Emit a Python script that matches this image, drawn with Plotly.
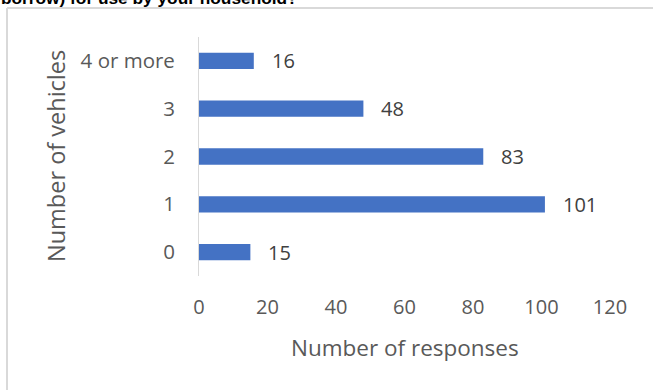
import plotly.graph_objects as go

# Household vehicle counts
categories = ["0", "1", "2", "3", "4 or more"]
responses = [15, 101, 83, 48, 16]
x_ticks = [0, 20, 40, 60, 80, 100, 120]

W, H = 654, 390
L, R, T, B = 199, 610, 37, 276  # plot area edges in pixels


def px_x(px):
    return (px - L) / (R - L)


def px_y(py):
    return (B - py) / (B - T)


FONT = "Open Sans"
GREY = "#595959"

fig = go.Figure(
    go.Bar(
        x=responses,
        y=categories,
        orientation="h",
        marker=dict(color="#4472C4", line=dict(width=0)),
        width=0.34,
        hoverinfo="skip",
    )
)

# value labels next to each bar
for cat, val in zip(categories, responses):
    fig.add_annotation(
        x=val, y=cat, xref="x", yref="y", text=str(val), showarrow=False,
        xanchor="left", xshift=16,
        font=dict(family=FONT, size=20, color="#404040"),
    )

# axis titles
fig.add_annotation(
    x=px_x(405), y=px_y(347), xref="paper", yref="paper",
    text="Number of responses", showarrow=False,
    xanchor="center", yanchor="middle",
    font=dict(family=FONT, size=22.5, color=GREY),
)
fig.add_annotation(
    x=px_x(56), y=px_y(156), xref="paper", yref="paper",
    text="Number of vehicles", showarrow=False, textangle=-90,
    xanchor="center", yanchor="middle",
    font=dict(family=FONT, size=23.5, color=GREY),
)

# question heading, running off the top edge
fig.add_annotation(
    x=px_x(-1), y=px_y(-2), xref="paper", yref="paper",
    text="<b>borrow) for use by your household?</b>", showarrow=False,
    xanchor="left", yanchor="middle",
    font=dict(family="Liberation Sans", size=17.3, color="#000000"),
)

# chart frame
frame = dict(type="line", xref="paper", yref="paper",
             line=dict(color="#d9d9d9", width=2), layer="below")
fig.add_shape(**frame, x0=px_x(7), x1=px_x(653), y0=px_y(8), y1=px_y(8))
fig.add_shape(**frame, x0=px_x(7), x1=px_x(7), y0=px_y(8), y1=px_y(400))

fig.update_layout(
    width=W, height=H,
    margin=dict(l=L, r=W - R, t=T, b=H - B, pad=0),
    paper_bgcolor="white", plot_bgcolor="white",
    showlegend=False,
    xaxis=dict(
        range=[0, 120], tickvals=x_ticks, showgrid=False, zeroline=False,
        showline=False, ticks="", ticklabelstandoff=17,
        tickfont=dict(family=FONT, size=20, color=GREY),
    ),
    yaxis=dict(
        type="category", categoryorder="array", categoryarray=categories,
        range=[-0.5, 4.5], showgrid=False, zeroline=False,
        showline=True, linecolor="#d9d9d9", linewidth=1,
        ticks="", ticklabelstandoff=19,
        tickfont=dict(family=FONT, size=20.5, color=GREY),
    ),
)

fig.write_html("out.html")
